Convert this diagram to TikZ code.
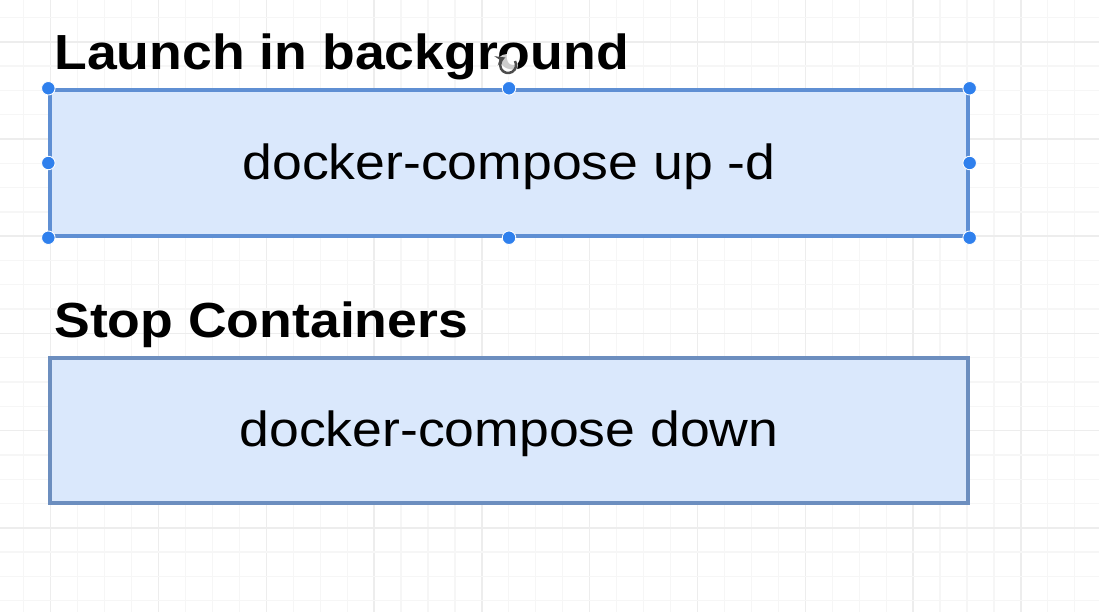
\documentclass[tikz,border=0pt]{standalone}
\usepackage{fontspec}
\setmainfont{Liberation Sans}
\usepackage{xcolor}
\usetikzlibrary{arrows, positioning}
\definecolor{boxfill}{HTML}{DAE8FC}
\definecolor{boxline}{HTML}{6C8EBF}
\definecolor{selline}{HTML}{5F8FD3}
\definecolor{handleblue}{HTML}{2F80ED}
\definecolor{gridminor}{HTML}{F6F6F6}
\definecolor{gridmajor}{HTML}{EDEDED}
\newcommand{\squash}[1]{\scalebox{1}[0.92]{#1}}
\tikzstyle{heading} = [anchor=base west, inner sep=0pt, font=\fontsize{30.5}{36}\selectfont\bfseries]
\tikzstyle{command} = [rectangle, minimum width=18.36cm, minimum height=2.92cm, text centered, text depth=0.07cm, fill=boxfill, font=\fontsize{30.5}{36}\selectfont]
\tikzstyle{handle} = [circle, fill=handleblue, draw=white, line width=0.5pt, inner sep=0pt, minimum size=0.27cm]
\tikzstyle{rotator} = [draw=black!70, line width=0.05cm, ->, >=stealth]

\begin{document}
\begin{tikzpicture}[x=0.02cm, y=-0.02cm, node distance=5.35cm]
\useasboundingbox[fill=white] (0,0) rectangle (1099,612);

% grid
\foreach \k in {-1,...,38} {
  \pgfmathsetmacro{\gx}{50.7+26.95*\k}
  \pgfmathtruncatemacro{\major}{mod(\k+4,4)==0}
  \ifnum\major=1 \draw[gridmajor, line width=0.03cm] (\gx,0) -- (\gx,612);
  \else \draw[gridminor, line width=0.025cm] (\gx,0) -- (\gx,612); \fi
}
\foreach \k in {-5,...,19} {
  \pgfmathsetmacro{\gy}{139+24.3*\k}
  \pgfmathtruncatemacro{\major}{mod(\k+8,4)==0}
  \ifnum\major=1 \draw[gridmajor, line width=0.03cm] (0,\gy) -- (1099,\gy);
  \else \draw[gridminor, line width=0.025cm] (0,\gy) -- (1099,\gy); \fi
}

\node (launch) [command, draw=selline, line width=0.07cm] at (509,163) {\squash{docker-compose up -d}};
\node (stop) [command, draw=boxline, line width=0.09cm, minimum height=2.9cm, below of=launch] {\squash{docker-compose down}};

\node (launchtitle) [heading] at (54,69.5) {\squash{Launch in background}};
\node (stoptitle) [heading] at (54,337) {\squash{Stop Containers}};

% selection handles
\foreach \a [count=\i] in {north west, north, north east, west, east, south west, south, south east}
  \node (h\i) [handle] at (launch.\a) {};

% rotate cursor
\fill[white, opacity=0.8] (507,65) circle (11);
\draw[rotator] (515,61) arc[start angle=-30, end angle=250, radius=8];

\end{tikzpicture}
\end{document}
